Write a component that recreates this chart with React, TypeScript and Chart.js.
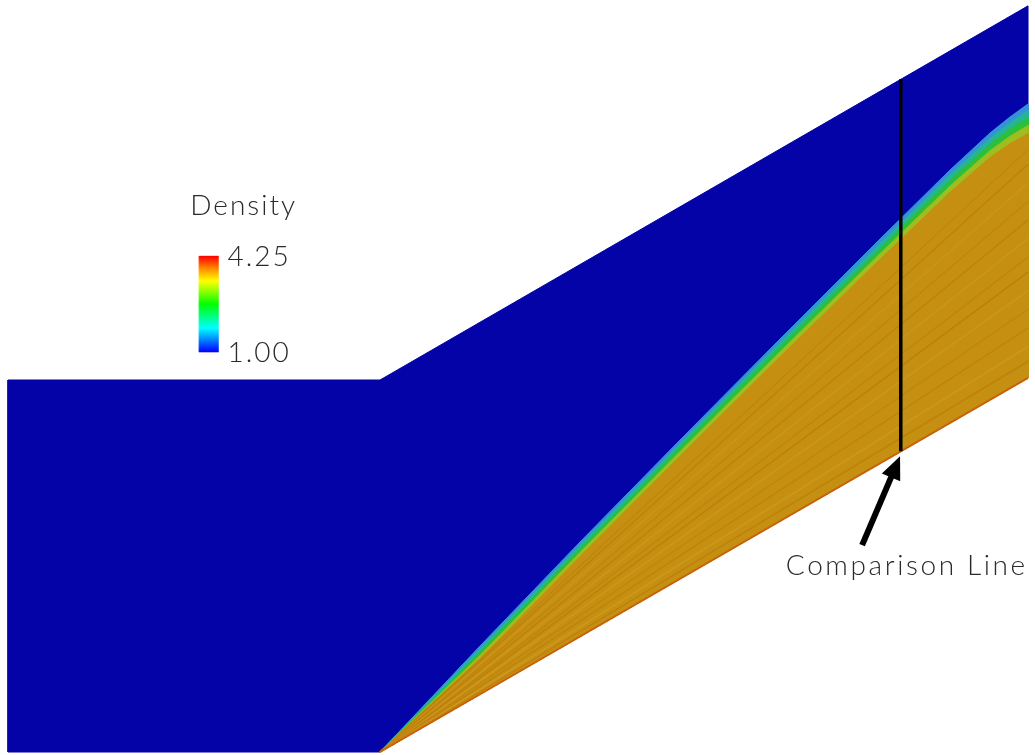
import { useEffect, useRef } from 'react';
import { Chart, registerables } from 'chart.js';

Chart.register(...registerables);

// 30° compression ramp and parallel upper wall; lengths scaled by inlet height
const RAMP_SLOPE = Math.tan(Math.PI / 6);
const inletStartX = -1;
const rampEndX = 1.742;
const ductHeight = 1;

// Shock front (upstream edge) sampled along the ramp
const shockX = [0, 0.2688, 0.5376, 0.8065, 1.0753, 1.3441, 1.5323, 1.6398, 1.6935, 1.742];
const shockY = [0, 0.2849, 0.5645, 0.8387, 1.1102, 1.379, 1.5645, 1.664, 1.707, 1.7419];
// Vertical thickness of the captured shock at the same stations
const shockThickness = [0.03, 0.035, 0.039, 0.043, 0.048, 0.055, 0.06, 0.066, 0.072, 0.08];

// Contour levels across the shock: fraction of thickness and shaded colour
const bandFractions = [0, 0.22, 0.45, 0.72, 1];
const bandColors = ['#3493d6', '#25b49a', '#2cbf3c', '#9ebd1e', '#c58f12'];

// Post-shock streaks, rays from the ramp corner ending at x = rampEndX
const streakEndY = [1.05, 1.09, 1.14, 1.19, 1.24, 1.29, 1.33, 1.38, 1.43, 1.48, 1.53, 1.58, 1.62];
const streakShade = [
  'rgba(180,110,5,0.45)', 'rgba(214,165,45,0.4)', 'rgba(182,112,5,0.45)', 'rgba(186,118,8,0.4)',
  'rgba(212,162,42,0.4)', 'rgba(178,108,4,0.45)', 'rgba(184,116,8,0.4)', 'rgba(210,160,40,0.4)',
  'rgba(180,110,5,0.45)', 'rgba(186,118,8,0.4)', 'rgba(208,158,38,0.4)', 'rgba(180,110,5,0.45)',
  'rgba(186,118,8,0.4)',
];

// Station where the density profile is extracted
const comparisonX = 1.4;

// Colour legend
const densityRange = [1.0, 4.25];
const colorbarTicks = ['1.00', '4.25'];
const jetStops: [number, string][] = [
  [0, '#0000ff'],
  [0.25, '#00ffff'],
  [0.5, '#00ff00'],
  [0.74, '#ffff00'],
  [0.87, '#ff8c00'],
  [1, '#ff0000'],
];

// Layout of the legend and the callout (data coordinates)
const legendBox = { x0: -0.486, x1: -0.434, y0: 1.075, y1: 1.333 };
const arrowTail = { x: 1.296, y: 0.556 };
const arrowTip = { x: 1.398, y: 0.795 };

const FIELD_BLUE = '#0303a8';
const TEXT_FONT = '300 28px Lato, "Open Sans", "DejaVu Sans", sans-serif';

const wall = (x: number) => (x > 0 ? x * RAMP_SLOPE : 0);

function polygonSet(label: string, data: { x: number; y: number }[], color: any, order: number) {
  return {
    label,
    data,
    showLine: true,
    fill: 'shape',
    tension: 0,
    pointRadius: 0,
    borderWidth: 1,
    borderColor: color,
    backgroundColor: color,
    order,
  };
}

function lineSet(label: string, data: { x: number; y: number }[], color: string, width: number, order: number) {
  return {
    label,
    data,
    showLine: true,
    fill: false,
    tension: 0,
    pointRadius: 0,
    borderWidth: width,
    borderColor: color,
    borderCapStyle: 'butt',
    order,
  };
}

function buildDatasets() {
  const sets: any[] = [];

  // whole flow domain at free-stream density
  const domain = [
    { x: inletStartX, y: 0 },
    { x: 0, y: 0 },
    { x: rampEndX, y: wall(rampEndX) },
    { x: rampEndX, y: wall(rampEndX) + ductHeight },
    { x: 0, y: ductHeight },
    { x: inletStartX, y: ductHeight },
    { x: inletStartX, y: 0 },
  ];
  sets.push(polygonSet('free stream', domain, FIELD_BLUE, 100));

  // shock layer, one polygon per contour level
  bandFractions.forEach((f, k) => {
    const pts = shockX.map((x, i) => ({ x, y: Math.max(shockY[i] - f * shockThickness[i], wall(x)) }));
    pts.push({ x: rampEndX, y: wall(rampEndX) });
    pts.push({ x: 0, y: 0 });
    sets.push(polygonSet('level ' + k, pts, bandColors[k], 90 - k));
  });

  // streaks inside the compressed layer
  streakEndY.forEach((ey, i) => {
    sets.push(
      lineSet('streak ' + i, [{ x: 0, y: 0 }, { x: rampEndX, y: ey }], streakShade[i], i % 3 === 1 ? 1.6 : 1.3, 80)
    );
  });

  // ramp surface
  sets.push(lineSet('ramp', [{ x: 0, y: 0 }, { x: rampEndX, y: wall(rampEndX) }], '#c9620a', 2, 70));

  // comparison line
  sets.push(
    lineSet(
      'comparison',
      [
        { x: comparisonX, y: wall(comparisonX) },
        { x: comparisonX, y: wall(comparisonX) + ductHeight },
      ],
      '#000000',
      3.5,
      60
    )
  );

  // colour bar
  const bar = [
    { x: legendBox.x0, y: legendBox.y0 },
    { x: legendBox.x1, y: legendBox.y0 },
    { x: legendBox.x1, y: legendBox.y1 },
    { x: legendBox.x0, y: legendBox.y1 },
    { x: legendBox.x0, y: legendBox.y0 },
  ];
  const gradient = (ctx: any) => {
    const chart = ctx.chart;
    const ys = chart.scales?.y;
    if (!ys || !chart.chartArea) return '#0000ff';
    const yb = ys.getPixelForValue(legendBox.y0);
    const yt = ys.getPixelForValue(legendBox.y1);
    if (!Number.isFinite(yb) || !Number.isFinite(yt) || yb === yt) return '#0000ff';
    const g = chart.ctx.createLinearGradient(0, yb, 0, yt);
    jetStops.forEach(([s, c]) => g.addColorStop(s, c));
    return g;
  };
  const barSet: any = polygonSet('Density', bar, gradient, 50);
  barSet.borderWidth = 0.5;
  sets.push(barSet);

  return sets;
}

const annotations = {
  id: 'annotations',
  afterDatasetsDraw(chart: any) {
    const { ctx, scales } = chart;
    const sx = scales.x;
    const sy = scales.y;
    ctx.save();

    // arrow pointing at the foot of the comparison line
    const tx = sx.getPixelForValue(arrowTail.x);
    const ty = sy.getPixelForValue(arrowTail.y);
    const hx = sx.getPixelForValue(arrowTip.x);
    const hy = sy.getPixelForValue(arrowTip.y);
    const ang = Math.atan2(hy - ty, hx - tx);
    const headLen = 23;
    const headHalf = 10;
    const bx = hx - headLen * Math.cos(ang);
    const by = hy - headLen * Math.sin(ang);
    ctx.strokeStyle = '#000';
    ctx.fillStyle = '#000';
    ctx.lineWidth = 6;
    ctx.lineCap = 'butt';
    ctx.beginPath();
    ctx.moveTo(tx, ty);
    ctx.lineTo(bx + 2 * Math.cos(ang), by + 2 * Math.sin(ang));
    ctx.stroke();
    ctx.beginPath();
    ctx.moveTo(hx, hy);
    ctx.lineTo(bx + headHalf * Math.sin(ang), by - headHalf * Math.cos(ang));
    ctx.lineTo(bx - headHalf * Math.sin(ang), by + headHalf * Math.cos(ang));
    ctx.closePath();
    ctx.fill();

    // text
    ctx.font = TEXT_FONT;
    ctx.fillStyle = '#2a2a2a';
    ctx.textBaseline = 'alphabetic';

    if ('letterSpacing' in ctx) (ctx as any).letterSpacing = '2.6px';
    ctx.textAlign = 'center';
    ctx.fillText('Comparison Line', sx.getPixelForValue(comparisonX) + 6, ty + 30);

    if ('letterSpacing' in ctx) (ctx as any).letterSpacing = '2px';
    const bl = sx.getPixelForValue(legendBox.x0);
    const br = sx.getPixelForValue(legendBox.x1);
    const bt = sy.getPixelForValue(legendBox.y1);
    const bb = sy.getPixelForValue(legendBox.y0);
    ctx.textAlign = 'left';
    ctx.fillText('Density', bl - 9, bt - 41);
    const span = densityRange[1] - densityRange[0];
    colorbarTicks.forEach((t) => {
      const frac = (parseFloat(t) - densityRange[0]) / span;
      const py = bb + (bt - bb) * frac;
      ctx.fillText(t, br + 9, py + 10);
    });

    ctx.restore();
  },
};

export default function App() {
  const ref = useRef<HTMLCanvasElement | null>(null);

  useEffect(() => {
    if (!ref.current) return;
    const xMin = -380 / 372;
    const xMax = 655 / 372;
    const yMin = -3 / 372;
    const yMax = 752 / 372;
    const chart = new Chart(ref.current, {
      type: 'scatter',
      data: { datasets: buildDatasets() },
      options: {
        animation: false,
        responsive: true,
        maintainAspectRatio: false,
        devicePixelRatio: 1,
        events: [],
        layout: { padding: 0 },
        plugins: {
          legend: { display: false },
          tooltip: { enabled: false },
          title: { display: false },
        },
        scales: {
          x: { type: 'linear', display: false, min: xMin, max: xMax },
          y: { type: 'linear', display: false, min: yMin, max: yMax },
        },
      } as any,
      plugins: [annotations],
    });
    return () => chart.destroy();
  }, []);

  return (
    <div style={{ position: 'fixed', left: 0, top: 0, width: 1035, height: 755, background: '#ffffff' }}>
      <canvas ref={ref} />
    </div>
  );
}
